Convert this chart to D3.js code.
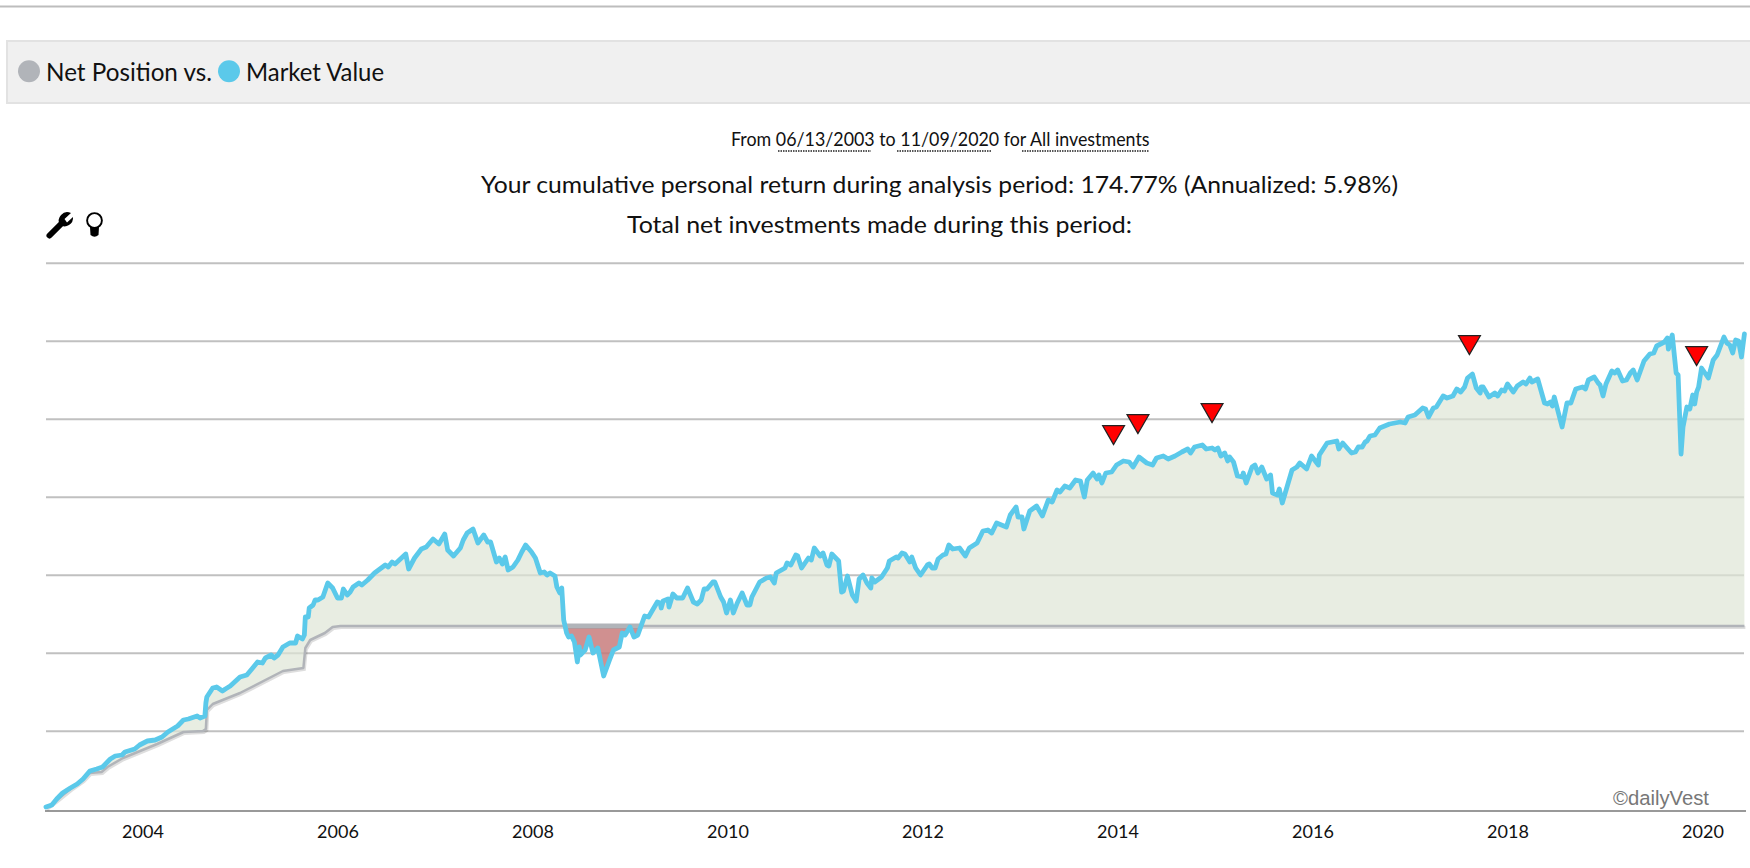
<!DOCTYPE html>
<html><head><meta charset="utf-8">
<script src="https://d3js.org/d3.v7.min.js"></script>
<style>html,body{margin:0;padding:0;background:#fff;overflow:hidden}svg{display:block}text{font-family:Lato,"Noto Sans",sans-serif;fill:#111}</style>
</head><body><svg id="c" width="1750" height="868"></svg>
<script>
// time in hundredths of a year after 2003-01-01; value in thousands (no labelled scale in the source)
const yearLabels=[2004,2006,2008,2010,2012,2014,2016,2018,2020];
const gridValues=[79,157,235,313,391,469,547];
const marketT=[1,7,12,18,26,33,39,46,53,59,67,72,79,82,92,97,105,113,120,126,136,142,147,156,159,164,165,166,172,176,182,185,190,200,207,213,218,223,226,232,235,239,244,251,257,259,264,266,267,270,271,275,277,280,285,290,295,300,304,306,310,313,316,322,325,331,338,349,352,356,359,370,373,379,386,391,398,404,410,413,419,426,429,433,439,444,450,454,457,463,466,469,472,475,480,485,489,493,499,503,508,512,515,518,523,525,528,530,532,535,537,540,543,546,548,549,554,558,562,567,573,579,583,589,592,595,600,604,608,615,619,628,631,632,634,639,640,644,648,654,659,665,669,673,676,679,685,687,693,696,699,703,706,710,715,720,723,725,733,740,744,748,750,759,761,765,770,772,776,783,786,789,795,798,802,804,807,812,814,817,819,823,828,832,835,839,843,847,848,851,858,864,866,873,875,879,882,887,889,893,898,905,907,910,913,916,921,924,927,931,938,944,948,956,962,967,971,976,986,990,996,998,1002,1004,1010,1017,1023,1029,1033,1038,1041,1046,1051,1057,1062,1066,1069,1075,1079,1081,1084,1088,1094,1099,1106,1112,1116,1122,1130,1136,1140,1147,1152,1159,1166,1172,1175,1179,1187,1191,1197,1200,1203,1206,1210,1213,1215,1219,1223,1228,1229,1232,1238,1241,1244,1248,1253,1257,1259,1264,1266,1269,1279,1284,1287,1294,1299,1306,1307,1315,1325,1327,1331,1340,1344,1347,1351,1354,1356,1359,1364,1369,1379,1390,1395,1398,1405,1413,1416,1419,1424,1427,1434,1438,1444,1448,1452,1456,1459,1464,1468,1472,1473,1475,1481,1487,1490,1494,1497,1500,1506,1510,1516,1519,1523,1525,1531,1538,1541,1544,1546,1548,1556,1561,1565,1570,1577,1580,1583,1589,1593,1595,1598,1601,1607,1610,1613,1618,1622,1626,1629,1633,1640,1646,1650,1653,1661,1664,1665,1669,1673,1675,1678,1680,1684,1687,1690,1692,1694,1696,1699,1706,1711,1715,1722,1725,1728,1731,1734,1737,1740,1743];
const marketV=[3,5,11,17,22,26,31,39,41,43,51,54,55,58,61,65,69,70,73,78,84,90,91,94,92,94,107,113,122,123,119,121,124,133,135,142,148,147,152,155,152,155,163,167,167,174,171,175,193,193,202,205,210,210,213,227,222,212,212,221,215,218,223,227,225,230,237,245,243,248,246,256,241,252,261,263,271,266,276,260,254,262,270,277,281,267,275,268,268,248,252,246,253,240,243,250,258,265,258,252,237,238,235,237,234,223,217,222,190,177,173,174,168,148,163,155,160,173,157,162,134,150,160,163,177,175,183,173,175,194,193,208,207,202,209,211,203,216,212,212,222,208,206,210,221,221,228,228,213,208,197,210,197,207,217,205,205,213,228,232,233,227,237,242,247,245,255,254,242,252,250,262,254,257,245,244,256,251,249,218,219,234,215,209,231,235,227,222,232,228,233,242,249,253,252,257,256,248,253,242,235,245,246,242,242,251,255,256,265,261,262,254,262,267,279,280,277,287,283,295,303,293,293,281,299,304,294,310,308,320,318,324,322,330,329,313,330,337,331,335,327,337,338,345,349,348,343,353,347,345,352,354,351,354,358,361,357,363,365,361,362,360,362,354,357,349,353,348,334,333,337,327,343,345,337,343,331,335,317,315,321,307,340,343,347,341,354,345,355,367,369,361,367,357,358,363,363,368,369,374,375,382,386,388,387,393,395,402,401,393,402,403,414,412,414,421,418,423,432,436,422,417,423,423,413,417,414,420,419,426,418,424,428,426,432,428,431,407,406,408,404,413,383,407,407,421,423,421,430,433,427,425,414,426,439,437,440,429,430,437,440,430,449,456,457,464,468,472,461,475,437,435,356,383,403,401,415,406,418,423,442,432,450,455,473,467,465,457,470,469,453,476];
const netT=[1,12,26,39,46,58,64,80,115,142,162,165,166,172,200,244,265,267,272,287,295,303,1743];
const netV=[2,10,21,30,37,38,43,52,66,78,79,81,100,106,117,139,142,162,170,177,183,184,184];
const flagT=[1096,1121,1197,1461,1694];
const flagV=[378,389,400,468,457];

const svg=d3.select('#c');
const x=d3.scaleLinear().domain([0,1743.6]).range([45,1745]);
const y=d3.scaleLinear().domain([0,600]).range([810,210]);
const yearT=d=>(d-2003)*100;
const netAt=d3.scaleLinear().domain(netT).range(netV);
const market=marketT.map((t,i)=>({t,v:marketV[i],n:netAt(t)}));
// add crossings so that the green and red areas meet on the net line
const pts=[];
market.forEach((p,i)=>{ if(i){const q=market[i-1],a=q.v-q.n,b=p.v-p.n; if(a*b<0){const f=a/(a-b),t=q.t+f*(p.t-q.t);pts.push({t,v:netAt(t),n:netAt(t)});}} pts.push(p);});
const net=netT.map((t,i)=>({t,v:netV[i]}));

// page furniture
svg.append('rect').attr('x',0).attr('y',5.5).attr('width',1750).attr('height',2).attr('fill','#bdbdbd');
svg.append('rect').attr('x',7).attr('y',41).attr('width',1750).attr('height',62).attr('fill','#f0f0f0').attr('stroke','#e2e2e2').attr('stroke-width',2);
svg.append('circle').attr('cx',29).attr('cy',71.3).attr('r',11).attr('fill','#b1b4b9');
svg.append('circle').attr('cx',229).attr('cy',71.3).attr('r',11).attr('fill','#5bc9ea');
function label(s,x0,x1,base,size){return svg.append('text').attr('x',x0).attr('y',base).attr('font-size',size).attr('textLength',x1-x0).attr('lengthAdjust','spacingAndGlyphs').text(s);}
label('Net Position vs.',46,212,81,25);
label('Market Value',246,384,81,25);
label('From 06/13/2003 to 11/09/2020 for All investments',731,1149.5,146,18.5);
[[778,871],[897,991],[1022,1149.5]].forEach(d=>svg.append('line').attr('x1',d[0]).attr('x2',d[1]).attr('y1',151).attr('y2',151).attr('stroke','#222').attr('stroke-width',1.6).attr('stroke-dasharray','1.5 1'));
label('Your cumulative personal return during analysis period: 174.77% (Annualized: 5.98%)',481,1398,192.5,23);
label('Total net investments made during this period:',627,1132,232.5,23);

// icons
const ic=svg.append('g');
ic.append('line').attr('x1',49.5).attr('y1',235.5).attr('x2',62).attr('y2',223).attr('stroke','#000').attr('stroke-width',6).attr('stroke-linecap','round');
ic.append('path').attr('d','M60 225 A8.5 8.5 0 0 1 71 213 L64.5 219 L67 222.5 L73 217 A8.5 8.5 0 0 1 60 225 Z').attr('fill','#000');
ic.append('circle').attr('cx',94.5).attr('cy',220.5).attr('r',7.4).attr('fill','#fff').attr('stroke','#000').attr('stroke-width',1.9);
ic.append('path').attr('d','M90 227 L99 227 L98.5 235 Q94.5 238.5 90.5 235 Z').attr('fill','#000');

// gridlines and axis
svg.append('g').selectAll('line').data(gridValues).join('line').attr('x1',46).attr('x2',1744).attr('y1',d=>y(d)+.3).attr('y2',d=>y(d)+.3).attr('stroke','#c0c0c0').attr('stroke-width',2);
const ax=svg.append('g').attr('transform','translate(0,811)').call(d3.axisBottom(x).tickValues(yearLabels.map(yearT)).tickFormat((d,i)=>yearLabels[i]).tickSize(0).tickPadding(14));
ax.select('.domain').attr('stroke','#999').attr('stroke-width',2).attr('d','M45,0H1746');
ax.selectAll('text').attr('font-size',18).attr('font-family','Lato').attr('fill','#111');

// areas
svg.append('path').datum(pts).attr('fill','rgb(222,230,214)').attr('fill-opacity',.7)
 .attr('d',d3.area().x(d=>x(d.t)).y0(d=>y(d.n)).y1(d=>y(Math.max(d.v,d.n))));
svg.append('path').datum(pts).attr('fill','rgb(196,116,116)').attr('fill-opacity',.8)
 .attr('d',d3.area().x(d=>x(d.t)).y0(d=>y(d.n)).y1(d=>y(Math.min(d.v,d.n))));

// net position
const netLine=d3.line().x(d=>x(d.t)).y(d=>y(d.v));
svg.append('path').datum(net).attr('d',netLine).attr('fill','none').attr('stroke','#000').attr('stroke-opacity',.13).attr('stroke-width',3).attr('transform','translate(1,1.5)');
svg.append('path').datum(net).attr('d',netLine).attr('fill','none').attr('stroke','#b1b4b9').attr('stroke-width',2.5).attr('stroke-linejoin','round');
const under=pts.filter(d=>d.v<=d.n&&d.t>500&&d.t<700);
svg.append('path').datum([{t:under[0].t,v:netAt(under[0].t)},{t:under[under.length-1].t,v:netAt(under[under.length-1].t)}]).attr('d',netLine).attr('fill','none').attr('stroke','#b1b4b9').attr('stroke-width',5);

// market value
svg.append('path').datum(market).attr('fill','none').attr('stroke','#5bc9ea').attr('stroke-width',4.8).attr('stroke-linejoin','round').attr('stroke-linecap','round')
 .attr('d',d3.line().x(d=>x(d.t)).y(d=>y(d.v)));

// flags
const tri=d3.symbol().type(d3.symbolTriangle).size(205);
svg.append('g').selectAll('path').data(flagT).join('path').attr('d',tri()).attr('fill','#f00').attr('stroke','#222').attr('stroke-width',1.3)
 .attr('transform',(d,i)=>`translate(${x(d)},${y(flagV[i])}) rotate(180)`);

// credit
svg.append('text').attr('x',1613).attr('y',805).attr('font-size',20.5).style('font-family','"Liberation Sans"').style('fill','#777').attr('textLength',96).attr('lengthAdjust','spacingAndGlyphs').text('©dailyVest');
</script></body></html>
